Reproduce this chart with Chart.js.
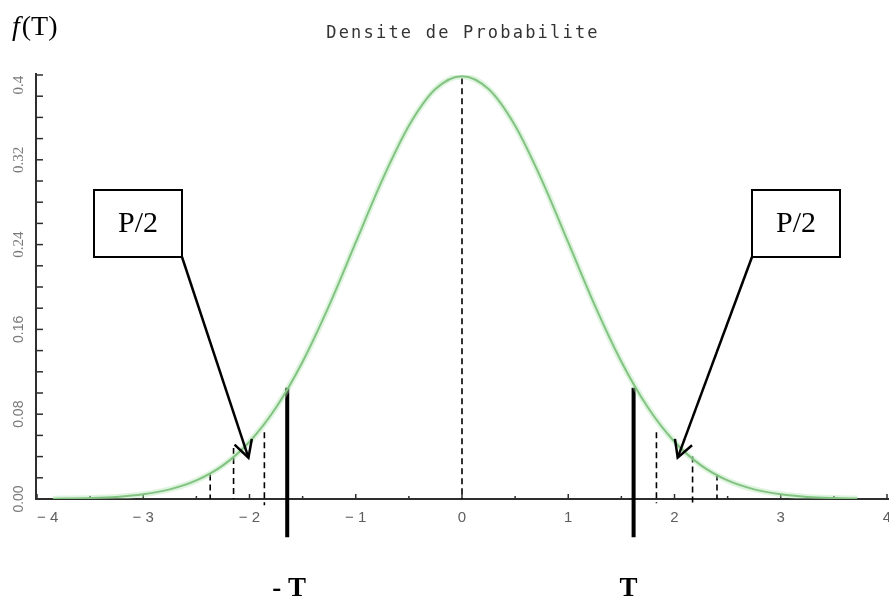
<!DOCTYPE html>
<html>
<head>
<meta charset="utf-8">
<script src="https://cdn.jsdelivr.net/npm/chart.js@4.4.0/dist/chart.umd.min.js"></script>
<style>
  html, body { margin: 0; padding: 0; background: #fff; }
  #wrap { width: 889px; height: 599px; }
</style>
</head>
<body>
<div id="wrap"><canvas id="chart" width="889" height="599"></canvas></div>
<script>
const curveX = [-3.85, -3.5, -3.25, -3, -2.75, -2.5, -2.25, -2, -1.75, -1.5, -1.25, -1, -0.75, -0.5, -0.25, 0,
  0.25, 0.5, 0.75, 1, 1.25, 1.5, 1.75, 2, 2.25, 2.5, 2.75, 3, 3.25, 3.5, 3.72];
const curveY = [0.0002, 0.0009, 0.002, 0.0044, 0.0091, 0.0175, 0.0317, 0.054, 0.0863, 0.1295, 0.1826, 0.242, 0.3011, 0.3521, 0.3867, 0.3989,
  0.3867, 0.3521, 0.3011, 0.242, 0.1826, 0.1295, 0.0863, 0.054, 0.0317, 0.0175, 0.0091, 0.0044, 0.002, 0.0009, 0.0004];

// dashed guides under the curve
const guideX = [-2.37, -2.15, -1.86, 0, 1.83, 2.17, 2.40];
const guideTop = [0.023, 0.048, 0.063, 0.397, 0.063, 0.040, 0.023];
const guideBottom = [0, 0, -0.006, 0, -0.004, -0.004, 0];

// critical values -T / T
const critX = [-1.645, 1.615];
const critTop = 0.105;
const critBottom = -0.036;

// where the P/2 arrows point
const arrowTipX = [-2.01, 2.03];
const arrowTipY = [0.039, 0.039];

const xTicks = [-4, -3, -2, -1, 0, 1, 2, 3, 4];
const xTickLabels = ['\u2212 4', '\u2212 3', '\u2212 2', '\u2212 1', '0', '1', '2', '3', '4'];
const yTicks = [0, 0.08, 0.16, 0.24, 0.32, 0.4];
const yTickLabels = ['0.00', '0.08', '0.16', '0.24', '0.32', '0.4'];

const datasets = [];
const curvePts = curveX.map((x, i) => ({ x: x, y: curveY[i] }));
// soft halo, then the curve itself
datasets.push({ data: curvePts, borderColor: 'rgba(175,228,175,0.4)', borderWidth: 6, cubicInterpolationMode: 'monotone', pointRadius: 0 });
datasets.push({ data: curvePts, borderColor: '#64ad64', borderWidth: 2, cubicInterpolationMode: 'monotone', pointRadius: 0 });
guideX.forEach(function(x, i) {
  datasets.push({ data: [{ x: x, y: guideTop[i] }, { x: x, y: guideBottom[i] }], borderColor: '#000', borderWidth: 1.6, borderDash: [6, 4], pointRadius: 0, clip: false });
});
critX.forEach(function(x) {
  datasets.push({ data: [{ x: x, y: critTop }, { x: x, y: critBottom }], borderColor: '#000', borderWidth: 4, pointRadius: 0, clip: false });
});

const axesPlugin = {
  id: 'axes',
  beforeDatasetsDraw(chart) {
    const ctx = chart.ctx;
    const xs = chart.scales.x, ys = chart.scales.y;
    const x0 = xs.getPixelForValue(-4), y0 = ys.getPixelForValue(0);
    const yTopPx = ys.getPixelForValue(0.4);
    ctx.save();
    ctx.strokeStyle = '#2e2e2e';
    ctx.lineWidth = 2;
    ctx.beginPath();
    ctx.moveTo(x0 - 1, yTopPx - 2);
    ctx.lineTo(x0 - 1, y0);
    ctx.lineTo(889, y0);
    ctx.stroke();
    // y ticks every 0.02, pointing inward
    ctx.lineWidth = 1.5;
    for (let k = 0; k <= 20; k++) {
      const py = ys.getPixelForValue(k * 0.02);
      ctx.beginPath();
      ctx.moveTo(x0, py);
      ctx.lineTo(x0 + 6, py);
      ctx.stroke();
    }
    // x ticks every 0.5
    for (let k = -8; k <= 8; k++) {
      const px = xs.getPixelForValue(k * 0.5);
      ctx.beginPath();
      ctx.moveTo(px, y0);
      ctx.lineTo(px, y0 - (k % 2 === 0 ? 5 : 3));
      ctx.stroke();
    }
    // x labels
    ctx.fillStyle = '#5e5e5e';
    ctx.font = '15px "Liberation Sans"';
    ctx.textBaseline = 'middle';
    xTicks.forEach(function(v, i) {
      const px = xs.getPixelForValue(v);
      ctx.textAlign = i === 0 ? 'left' : 'center';
      ctx.fillText(xTickLabels[i], px, y0 + 19);
    });
    // y labels, rotated
    ctx.fillStyle = '#7a7a7a';
    yTicks.forEach(function(v, i) {
      let py = ys.getPixelForValue(v);
      if (py < yTopPx + 10) py = yTopPx + 10;
      ctx.save();
      ctx.translate(19, py);
      ctx.rotate(-Math.PI / 2);
      ctx.font = i < 3 ? '14px "Liberation Sans"' : '15px "Liberation Serif"';
      ctx.textAlign = 'center';
      ctx.textBaseline = 'middle';
      ctx.fillText(yTickLabels[i], 0, 0);
      ctx.restore();
    });
    ctx.restore();
  },
  afterDatasetsDraw(chart) {
    const ctx = chart.ctx;
    const xs = chart.scales.x, ys = chart.scales.y;
    ctx.save();
    // title
    ctx.fillStyle = '#333';
    ctx.font = '17px "DejaVu Sans Mono"';
    ctx.letterSpacing = '2.2px';
    ctx.textAlign = 'center';
    ctx.textBaseline = 'middle';
    ctx.fillText('Densite de Probabilite', 463, 34);
    ctx.letterSpacing = '0px';

    // f(T)
    ctx.fillStyle = '#000';
    ctx.textAlign = 'left';
    ctx.textBaseline = 'alphabetic';
    ctx.font = 'italic 28px "Liberation Serif"';
    ctx.fillText('f', 12, 35);
    const fw = ctx.measureText('f').width;
    ctx.font = '28px "Liberation Serif"';
    ctx.fillText('(T)', 12 + fw + 2, 35);

    // P/2 boxes and arrows
    const boxes = [{ l: 94, t: 190, r: 182, b: 257, ax: 182 }, { l: 752, t: 190, r: 840, b: 257, ax: 752 }];
    boxes.forEach(function(bx, i) {
      ctx.strokeStyle = '#000';
      ctx.lineWidth = 2;
      ctx.strokeRect(bx.l, bx.t, bx.r - bx.l, bx.b - bx.t);
      ctx.font = '30px "Liberation Serif"';
      ctx.textAlign = 'center';
      ctx.textBaseline = 'middle';
      ctx.fillStyle = '#000';
      ctx.fillText('P/2', (bx.l + bx.r) / 2, (bx.t + bx.b) / 2 + 1);

      const tx = xs.getPixelForValue(arrowTipX[i]);
      const ty = ys.getPixelForValue(arrowTipY[i]);
      const sx = bx.ax, sy = bx.b;
      ctx.lineWidth = 2.5;
      ctx.beginPath();
      ctx.moveTo(sx, sy);
      ctx.lineTo(tx, ty);
      ctx.stroke();
      const ang = Math.atan2(ty - sy, tx - sx);
      const len = 19, spread = 0.5;
      ctx.beginPath();
      ctx.moveTo(tx - len * Math.cos(ang - spread), ty - len * Math.sin(ang - spread));
      ctx.lineTo(tx, ty);
      ctx.lineTo(tx - len * Math.cos(ang + spread), ty - len * Math.sin(ang + spread));
      ctx.stroke();
    });

    // -T / T labels
    ctx.font = 'bold 27px "Liberation Serif"';
    ctx.textAlign = 'center';
    ctx.textBaseline = 'alphabetic';
    ctx.fillText('- T', xs.getPixelForValue(critX[0]) + 2, 596);
    ctx.fillText('T', xs.getPixelForValue(critX[1]) - 5, 596);
    ctx.restore();
  }
};

new Chart(document.getElementById('chart').getContext('2d'), {
  type: 'line',
  data: { datasets: datasets },
  options: {
    responsive: false,
    animation: false,
    layout: { padding: { left: 37, right: 2, top: 75, bottom: 100 } },
    plugins: { legend: { display: false }, tooltip: { enabled: false }, title: { display: false } },
    scales: {
      x: { type: 'linear', min: -4, max: 4, display: false },
      y: { type: 'linear', min: 0, max: 0.4, display: false }
    }
  },
  plugins: [axesPlugin]
});
</script>
</body>
</html>
